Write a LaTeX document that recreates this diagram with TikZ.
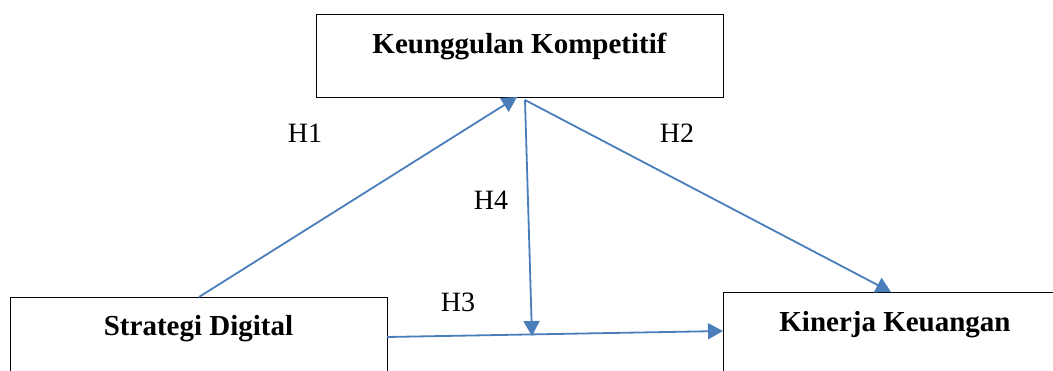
\documentclass[tikz,border=0pt]{standalone}
\usepackage{fontspec}
\setmainfont{Liberation Serif}
\usetikzlibrary{arrows.meta}
\definecolor{linkblue}{HTML}{4A7EBB}
\tikzset{
  varbox/.style={draw=black, line width=1pt, fill=white, inner sep=0pt},
  vartext/.style={font=\fontsize{29}{29}\selectfont\bfseries, inner sep=0pt, anchor=base},
  hyp/.style={font=\fontsize{28}{28}\selectfont, inner sep=0pt},
  link/.style={draw=linkblue, line width=1.8pt, -{Triangle[length=15pt,width=16pt]}},
}
\begin{document}
\begin{tikzpicture}[x=1pt,y=-1pt]
\useasboundingbox (0,0) rectangle (1053,370);
\clip (0,0) rectangle (1053,370);
% construct boxes
\node[varbox, minimum width=407pt, minimum height=83pt] (kk) at (519.5,55.5) {};
\node[varbox, minimum width=377pt, minimum height=90pt] (sd) at (198.5,342) {};
\node[varbox, minimum width=340pt, minimum height=90pt] (ku) at (893,337) {};
% box titles
\node[vartext] (kkt) at (519.5,53) {Keunggulan Kompetitif};
\node[vartext] (sdt) at (198.5,335) {Strategi Digital};
\node[vartext] (kut) at (895,331) {Kinerja Keuangan};
% connector end points
\coordinate (h1a) at (199,297);
\coordinate (h1b) at (517,97);
\coordinate (top) at (525,100);
\coordinate (h2b) at (891,292);
\coordinate (h4b) at (532,336);
\coordinate (h3a) at (387,337);
\coordinate (h3b) at (723,331);
% paths
\draw[link] (h1a) -- (h1b);
\draw[link] (top) -- (h2b);
\draw[link] (top) -- (h4b);
\draw[link] (h3a) -- (h3b);
% hypothesis labels
\node[hyp] (l1) at (305,133) {H1};
\node[hyp] (l2) at (677,133) {H2};
\node[hyp] (l4) at (491,200) {H4};
\node[hyp] (l3) at (458,302) {H3};
\end{tikzpicture}
\end{document}
